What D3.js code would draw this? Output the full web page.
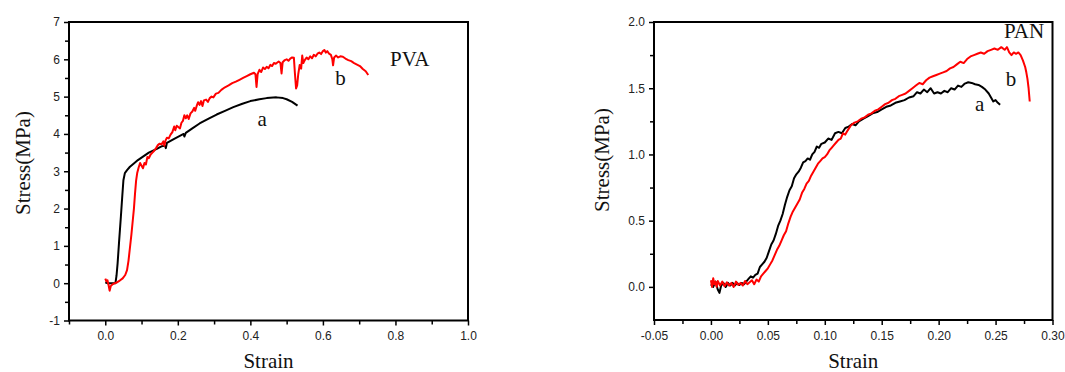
<!DOCTYPE html>
<html><head><meta charset="utf-8">
<script src="https://cdn.jsdelivr.net/npm/d3@7"></script>
<style>
html,body{margin:0;padding:0;background:#fff;}
svg{display:block;}
.tick text{font-family:"Liberation Sans",Arial,sans-serif;font-size:12px;fill:#222;}
.ttl{font-family:"Liberation Serif","Times New Roman",serif;font-size:21px;fill:#111;}
</style></head>
<body>
<svg id="c" width="1065" height="372"></svg>
<script>
// ---------- DATA ----------
// PVA chart
const pvaXTicks = [0.0, 0.2, 0.4, 0.6, 0.8, 1.0];
const pvaYTicks = [-1, 0, 1, 2, 3, 4, 5, 6, 7];
const pvaA = [[0.0,0.02],[0.005,0.0],[0.015,0.0],[0.028,0.0],[0.031,0.2],[0.034,0.53],[0.038,1.1],[0.043,1.78],[0.047,2.35],[0.05,2.76],[0.054,2.95],[0.06,3.03],[0.068,3.12],[0.078,3.2],[0.09,3.3],[0.105,3.4],[0.12,3.5],[0.142,3.6],[0.155,3.67],[0.165,3.68],[0.167,3.62],[0.17,3.76],[0.19,3.87],[0.216,4.0],[0.218,3.93],[0.222,4.03],[0.24,4.15],[0.26,4.28],[0.285,4.41],[0.307,4.52],[0.33,4.62],[0.353,4.72],[0.378,4.81],[0.4,4.88],[0.425,4.93],[0.445,4.96],[0.472,4.98],[0.49,4.96],[0.5,4.93],[0.515,4.86],[0.53,4.76]];
const pvaB = [[0.0,0.12],[0.003,0.05],[0.006,0.08],[0.009,-0.05],[0.012,-0.2],[0.015,-0.08],[0.02,-0.03],[0.026,0.0],[0.032,0.02],[0.04,0.07],[0.048,0.13],[0.055,0.22],[0.06,0.35],[0.064,0.6],[0.068,0.95],[0.072,1.3],[0.076,1.7],[0.079,2.0],[0.082,2.4],[0.085,2.75],[0.088,2.95],[0.092,3.1],[0.096,3.22],[0.1,3.15],[0.104,3.08],[0.108,3.22],[0.112,3.18],[0.116,3.38],[0.12,3.35],[0.125,3.45],[0.13,3.5],[0.135,3.55],[0.14,3.62],[0.145,3.7],[0.15,3.74],[0.155,3.72],[0.16,3.8],[0.163,3.68],[0.166,3.82],[0.17,3.9],[0.175,3.88],[0.18,3.98],[0.185,4.05],[0.19,4.2],[0.193,4.1],[0.197,4.22],[0.202,4.18],[0.206,4.15],[0.21,4.3],[0.214,4.35],[0.218,4.5],[0.222,4.42],[0.226,4.5],[0.23,4.4],[0.235,4.55],[0.24,4.6],[0.245,4.7],[0.248,4.62],[0.252,4.75],[0.256,4.85],[0.26,4.78],[0.264,4.88],[0.268,4.75],[0.272,4.9],[0.278,4.92],[0.283,4.86],[0.288,4.96],[0.293,5.0],[0.298,4.98],[0.305,5.08],[0.312,5.1],[0.32,5.18],[0.33,5.25],[0.34,5.3],[0.35,5.36],[0.36,5.4],[0.37,5.45],[0.38,5.5],[0.39,5.55],[0.4,5.6],[0.41,5.64],[0.414,5.6],[0.417,5.26],[0.42,5.6],[0.425,5.72],[0.43,5.66],[0.435,5.78],[0.44,5.74],[0.445,5.8],[0.45,5.76],[0.455,5.85],[0.46,5.82],[0.465,5.9],[0.47,5.88],[0.478,5.94],[0.483,5.9],[0.486,5.62],[0.489,5.92],[0.495,5.98],[0.5,6.0],[0.505,5.96],[0.51,6.02],[0.515,6.05],[0.52,6.04],[0.523,5.6],[0.526,5.22],[0.529,5.3],[0.532,5.6],[0.536,5.85],[0.54,5.75],[0.543,6.1],[0.546,5.9],[0.55,5.98],[0.555,6.05],[0.56,6.0],[0.565,6.08],[0.57,6.03],[0.575,6.12],[0.58,6.08],[0.585,6.15],[0.59,6.18],[0.595,6.14],[0.6,6.22],[0.604,6.25],[0.608,6.18],[0.612,6.22],[0.617,6.15],[0.622,6.12],[0.626,6.0],[0.628,5.84],[0.631,6.05],[0.636,6.1],[0.642,6.05],[0.648,6.08],[0.655,6.07],[0.662,6.02],[0.67,5.98],[0.678,5.95],[0.686,5.9],[0.694,5.86],[0.702,5.82],[0.71,5.74],[0.718,5.68],[0.725,5.58]];

// PAN chart
const panXTicks = [-0.05, 0.0, 0.05, 0.10, 0.15, 0.20, 0.25, 0.30];
const panYTicks = [0.0, 0.5, 1.0, 1.5, 2.0];
const panA = [[0,0.02],[0.002,0.0],[0.004,0.04],[0.006,-0.02],[0.0075,-0.045],[0.009,0.01],[0.011,0.03],[0.013,0.0],[0.015,0.03],[0.017,0.01],[0.019,0.03],[0.021,0.01],[0.023,0.03],[0.025,0.015],[0.027,0.03],[0.029,0.02],[0.031,0.04],[0.033,0.06],[0.035,0.08],[0.037,0.07],[0.039,0.09],[0.041,0.1],[0.043,0.15],[0.045,0.17],[0.047,0.19],[0.049,0.22],[0.051,0.27],[0.053,0.32],[0.055,0.35],[0.057,0.4],[0.059,0.46],[0.061,0.5],[0.063,0.55],[0.065,0.62],[0.067,0.68],[0.069,0.73],[0.071,0.76],[0.073,0.82],[0.075,0.85],[0.077,0.87],[0.079,0.9],[0.081,0.94],[0.083,0.95],[0.085,0.97],[0.087,0.96],[0.089,1.0],[0.091,1.02],[0.093,1.06],[0.095,1.05],[0.097,1.08],[0.1,1.09],[0.103,1.12],[0.106,1.11],[0.109,1.16],[0.112,1.17],[0.115,1.16],[0.118,1.2],[0.121,1.21],[0.124,1.23],[0.127,1.22],[0.13,1.25],[0.134,1.27],[0.138,1.29],[0.142,1.31],[0.146,1.32],[0.15,1.34],[0.154,1.36],[0.158,1.37],[0.162,1.39],[0.166,1.4],[0.17,1.41],[0.174,1.43],[0.178,1.44],[0.181,1.47],[0.184,1.46],[0.187,1.49],[0.19,1.47],[0.193,1.5],[0.196,1.46],[0.199,1.47],[0.202,1.46],[0.205,1.48],[0.208,1.47],[0.211,1.5],[0.214,1.49],[0.217,1.52],[0.22,1.51],[0.223,1.535],[0.226,1.545],[0.229,1.54],[0.232,1.53],[0.235,1.525],[0.238,1.51],[0.241,1.49],[0.244,1.46],[0.246,1.43],[0.248,1.4],[0.25,1.41],[0.252,1.39],[0.254,1.375]];
const panB = [[0,0.05],[0.001,0.0],[0.002,0.065],[0.003,0.02],[0.004,0.04],[0.005,0.0],[0.006,0.045],[0.008,0.01],[0.01,0.04],[0.012,0.005],[0.014,0.035],[0.016,0.01],[0.018,0.03],[0.02,0.0],[0.022,0.04],[0.024,0.015],[0.026,0.03],[0.028,0.01],[0.03,0.045],[0.032,0.02],[0.034,0.035],[0.036,0.05],[0.038,0.02],[0.04,0.055],[0.042,0.04],[0.044,0.08],[0.046,0.1],[0.048,0.12],[0.05,0.14],[0.052,0.17],[0.054,0.2],[0.056,0.24],[0.058,0.28],[0.06,0.31],[0.062,0.35],[0.064,0.39],[0.066,0.42],[0.068,0.48],[0.07,0.53],[0.072,0.57],[0.074,0.6],[0.076,0.63],[0.078,0.66],[0.08,0.71],[0.082,0.74],[0.084,0.78],[0.086,0.8],[0.088,0.84],[0.09,0.87],[0.092,0.9],[0.094,0.93],[0.096,0.95],[0.098,0.97],[0.1,0.98],[0.102,1.0],[0.104,1.03],[0.106,1.05],[0.108,1.07],[0.11,1.09],[0.112,1.11],[0.114,1.12],[0.116,1.16],[0.118,1.15],[0.12,1.18],[0.123,1.22],[0.126,1.24],[0.129,1.25],[0.132,1.27],[0.135,1.28],[0.138,1.3],[0.141,1.31],[0.144,1.33],[0.147,1.34],[0.15,1.36],[0.153,1.38],[0.156,1.39],[0.159,1.41],[0.162,1.42],[0.165,1.44],[0.168,1.45],[0.171,1.46],[0.174,1.48],[0.177,1.5],[0.18,1.52],[0.183,1.54],[0.186,1.53],[0.189,1.56],[0.192,1.58],[0.195,1.59],[0.198,1.6],[0.201,1.61],[0.204,1.62],[0.207,1.63],[0.21,1.65],[0.213,1.66],[0.216,1.68],[0.219,1.7],[0.222,1.69],[0.225,1.72],[0.228,1.74],[0.231,1.75],[0.234,1.76],[0.237,1.77],[0.24,1.76],[0.243,1.78],[0.246,1.79],[0.249,1.8],[0.252,1.79],[0.255,1.81],[0.258,1.79],[0.26,1.81],[0.262,1.77],[0.264,1.75],[0.266,1.77],[0.268,1.76],[0.27,1.77],[0.272,1.75],[0.274,1.71],[0.276,1.66],[0.277,1.62],[0.278,1.57],[0.279,1.5],[0.28,1.4]];

const xTitle = "Strain";
const yTitle = "Stress(MPa)";

// ---------- DRAW ----------
const svg = d3.select("#c");
const hy = f => d => f(d).replace("\u2212","-");

function panel(cfg){
  const g = svg.append("g");
  const x = d3.scaleLinear().domain(cfg.xDom).range([cfg.left, cfg.right]);
  const y = d3.scaleLinear().domain(cfg.yDom).range([cfg.bottom, cfg.top]);

  // minor ticks
  g.append("g").attr("transform",`translate(0,${cfg.bottom})`)
    .call(d3.axisBottom(x).tickValues(cfg.xMinor).tickSize(4).tickFormat(""))
    .call(a=>a.select(".domain").remove());
  g.append("g").attr("transform",`translate(${cfg.left},0)`)
    .call(d3.axisLeft(y).tickValues(cfg.yMinor).tickSize(4).tickFormat(""))
    .call(a=>a.select(".domain").remove());
  // major ticks
  g.append("g").attr("transform",`translate(0,${cfg.bottom})`)
    .call(d3.axisBottom(x).tickValues(cfg.xTicks).tickSize(5).tickPadding(6).tickFormat(hy(cfg.xFmt)))
    .call(a=>a.select(".domain").remove());
  g.append("g").attr("transform",`translate(${cfg.left},0)`)
    .call(d3.axisLeft(y).tickValues(cfg.yTicks).tickSize(5).tickPadding(4).tickFormat(hy(cfg.yFmt)))
    .call(a=>a.select(".domain").remove());
  g.selectAll(".tick line").attr("stroke","#000").attr("stroke-width",1.5);

  // frame
  g.append("rect").attr("x",cfg.left).attr("y",cfg.top)
    .attr("width",cfg.right-cfg.left).attr("height",cfg.bottom-cfg.top)
    .attr("fill","none").attr("stroke","#000").attr("stroke-width",2);

  const line = d3.line().x(d=>x(d[0])).y(d=>y(d[1]));
  g.append("path").datum(cfg.a).attr("d",line).attr("fill","none")
    .attr("stroke","#000").attr("stroke-width",2).attr("stroke-linejoin","round");
  g.append("path").datum(cfg.b).attr("d",line).attr("fill","none")
    .attr("stroke","#ff0000").attr("stroke-width",2).attr("stroke-linejoin","round");

  // titles
  g.append("text").attr("class","ttl").attr("text-anchor","middle")
    .attr("x",(cfg.left+cfg.right)/2).attr("y",368).text(xTitle);
  g.append("text").attr("class","ttl").attr("text-anchor","middle")
    .attr("transform",`translate(${cfg.yTitleX},${cfg.yTitleY}) rotate(-90)`).text(yTitle);

  // annotations
  cfg.labels.forEach(l=>{
    g.append("text").attr("class","ttl").attr("x",x(l.x)).attr("y",y(l.y))
      .style("font-size",l.size+"px").text(l.t);
  });
}

panel({
  left:69, right:468, top:22, bottom:320.5,
  xDom:[-0.1,1.0], yDom:[-1,7],
  xTicks:pvaXTicks, yTicks:pvaYTicks,
  xMinor:[-0.1,0.1,0.3,0.5,0.7,0.9], yMinor:[-0.5,0.5,1.5,2.5,3.5,4.5,5.5,6.5],
  xFmt:d3.format(".1f"), yFmt:d3.format("d"),
  a:pvaA, b:pvaB,
  yTitleX:30, yTitleY:163,
  labels:[{t:"PVA",x:0.785,y:5.82,size:21},{t:"b",x:0.634,y:5.31,size:21},{t:"a",x:0.42,y:4.2,size:21}]
});

panel({
  left:654, right:1052.5, top:22, bottom:320,
  xDom:[-0.05,0.30], yDom:[-0.25,2.0],
  xTicks:panXTicks, yTicks:panYTicks,
  xMinor:[-0.025,0.025,0.075,0.125,0.175,0.225,0.275], yMinor:[0.25,0.75,1.25,1.75],
  xFmt:d3.format(".2f"), yFmt:d3.format(".1f"),
  a:panA, b:panB,
  yTitleX:609, yTitleY:160,
  labels:[{t:"PAN",x:0.2575,y:1.88,size:21},{t:"b",x:0.259,y:1.52,size:21},{t:"a",x:0.232,y:1.33,size:21}]
});
</script>
</body></html>
